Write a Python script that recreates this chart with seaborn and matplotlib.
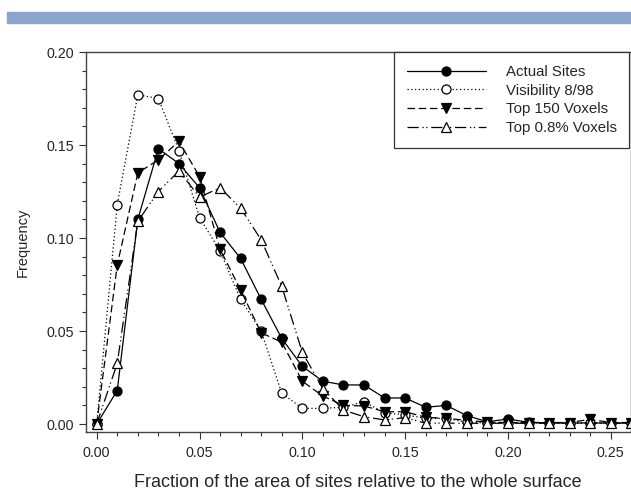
import matplotlib
matplotlib.use("Agg")
import matplotlib.pyplot as plt
import numpy as np
import pandas as pd
import seaborn as sns
from matplotlib.patches import Rectangle
from matplotlib.ticker import MultipleLocator, FormatStrFormatter

# fraction of surface area bins
frac = [0.00, 0.01, 0.02, 0.03, 0.04, 0.05, 0.06, 0.07, 0.08, 0.09, 0.10, 0.11, 0.12, 0.13,
        0.14, 0.15, 0.16, 0.17, 0.18, 0.19, 0.20, 0.21, 0.22, 0.23, 0.24, 0.25, 0.26]

actual_sites = [0.000, 0.018, 0.110, 0.148, 0.140, 0.127, 0.103, 0.089, 0.067, 0.046, 0.031, 0.023,
                0.021, 0.021, 0.014, 0.014, 0.009, 0.010, 0.0045, 0.0012, 0.0027, 0.0009, 0.0006,
                0.0005, 0.0006, 0.0005, 0.0005]
visibility = [0.000, 0.118, 0.177, 0.175, 0.147, 0.111, 0.093, 0.067, 0.050, 0.0165, 0.0084, 0.0084,
              0.009, 0.012, 0.006, 0.005, 0.003, 0.003, 0.001, 0.0006, 0.0006, 0.0005, 0.0005,
              0.0005, 0.0005, 0.0005, 0.0005]
top150 = [0.000, 0.0855, 0.135, 0.142, 0.152, 0.133, 0.094, 0.072, 0.049, 0.044, 0.023, 0.015,
          0.010, 0.0097, 0.0066, 0.0066, 0.0036, 0.0030, 0.002, 0.001, 0.0008, 0.0008, 0.0008,
          0.0008, 0.0025, 0.0008, 0.0008]
top08 = [0.000, 0.0326, 0.109, 0.125, 0.136, 0.122, 0.127, 0.116, 0.099, 0.074, 0.0385, 0.019,
         0.0075, 0.0039, 0.0022, 0.0034, 0.0004, 0.0005, 0.0004, 0.0004, 0.0004, 0.0004, 0.0004,
         0.0004, 0.0004, 0.0004, 0.0004]

series_names = ['Actual Sites', 'Visibility 8/98', 'Top 150 Voxels', 'Top 0.8% Voxels']

df = pd.DataFrame({'frac': frac, 'Actual Sites': actual_sites, 'Visibility 8/98': visibility,
                   'Top 150 Voxels': top150, 'Top 0.8% Voxels': top08})

sns.set_style('ticks')
plt.rcParams['font.family'] = ['Liberation Sans', 'DejaVu Sans']

fig = plt.figure(figsize=(6.31, 4.95), dpi=100)
ax = fig.add_axes([86 / 631, 63 / 495, 544.5 / 631, 380 / 495])

# blue band on top
fig.patches.append(Rectangle((7 / 631, 472 / 495), 1 - 7 / 631, 11 / 495,
                             transform=fig.transFigure, color='#8CA5CD', zorder=0))

styles = {
    'Actual Sites': dict(marker='o', markerfacecolor='black', linestyle='-'),
    'Visibility 8/98': dict(marker='o', markerfacecolor='white', linestyle=(0, (1, 2))),
    'Top 150 Voxels': dict(marker='v', markerfacecolor='black', linestyle=(0, (6, 3))),
    'Top 0.8% Voxels': dict(marker='^', markerfacecolor='white', linestyle=(0, (9, 3, 1, 2, 1, 3))),
}

for name in series_names:
    st = styles[name]
    sns.lineplot(data=df, x='frac', y=name, ax=ax, color='black', linewidth=0.9,
                 marker=st['marker'], markerfacecolor=st['markerfacecolor'],
                 markeredgecolor='black', markeredgewidth=0.9, markersize=6.5,
                 linestyle=st['linestyle'], label=name, clip_on=True)

ax.set_xlim(-0.0052, 0.2596)
ax.set_ylim(-0.0043, 0.20)
ax.xaxis.set_major_locator(MultipleLocator(0.05))
ax.xaxis.set_minor_locator(MultipleLocator(0.01))
ax.yaxis.set_major_locator(MultipleLocator(0.05))
ax.yaxis.set_minor_locator(MultipleLocator(0.01))
ax.xaxis.set_major_formatter(FormatStrFormatter('%.2f'))
ax.yaxis.set_major_formatter(FormatStrFormatter('%.2f'))
ax.tick_params(which='major', direction='out', length=5, width=0.8, labelsize=10.3, color='#333333')
ax.tick_params(which='minor', direction='out', length=3, width=0.8, color='#333333')
ax.tick_params(axis='x', pad=5)
for sp in ax.spines.values():
    sp.set_visible(True)
    sp.set_color('#444444')
    sp.set_linewidth(1.0)

ax.set_xlabel('Fraction of the area of sites relative to the whole surface', fontsize=13, labelpad=10)
ax.set_ylabel('Frequency', fontsize=10.5, labelpad=12)

leg = ax.legend(loc='upper right', bbox_to_anchor=(0.998, 1.0), borderaxespad=0,
                frameon=True, fancybox=False, edgecolor='#333333', fontsize=10.8,
                handlelength=5.3, handletextpad=1.3, labelspacing=0.32,
                borderpad=0.85, framealpha=1)
leg.get_frame().set_linewidth(0.9)

fig.savefig('out.png', dpi=100)
